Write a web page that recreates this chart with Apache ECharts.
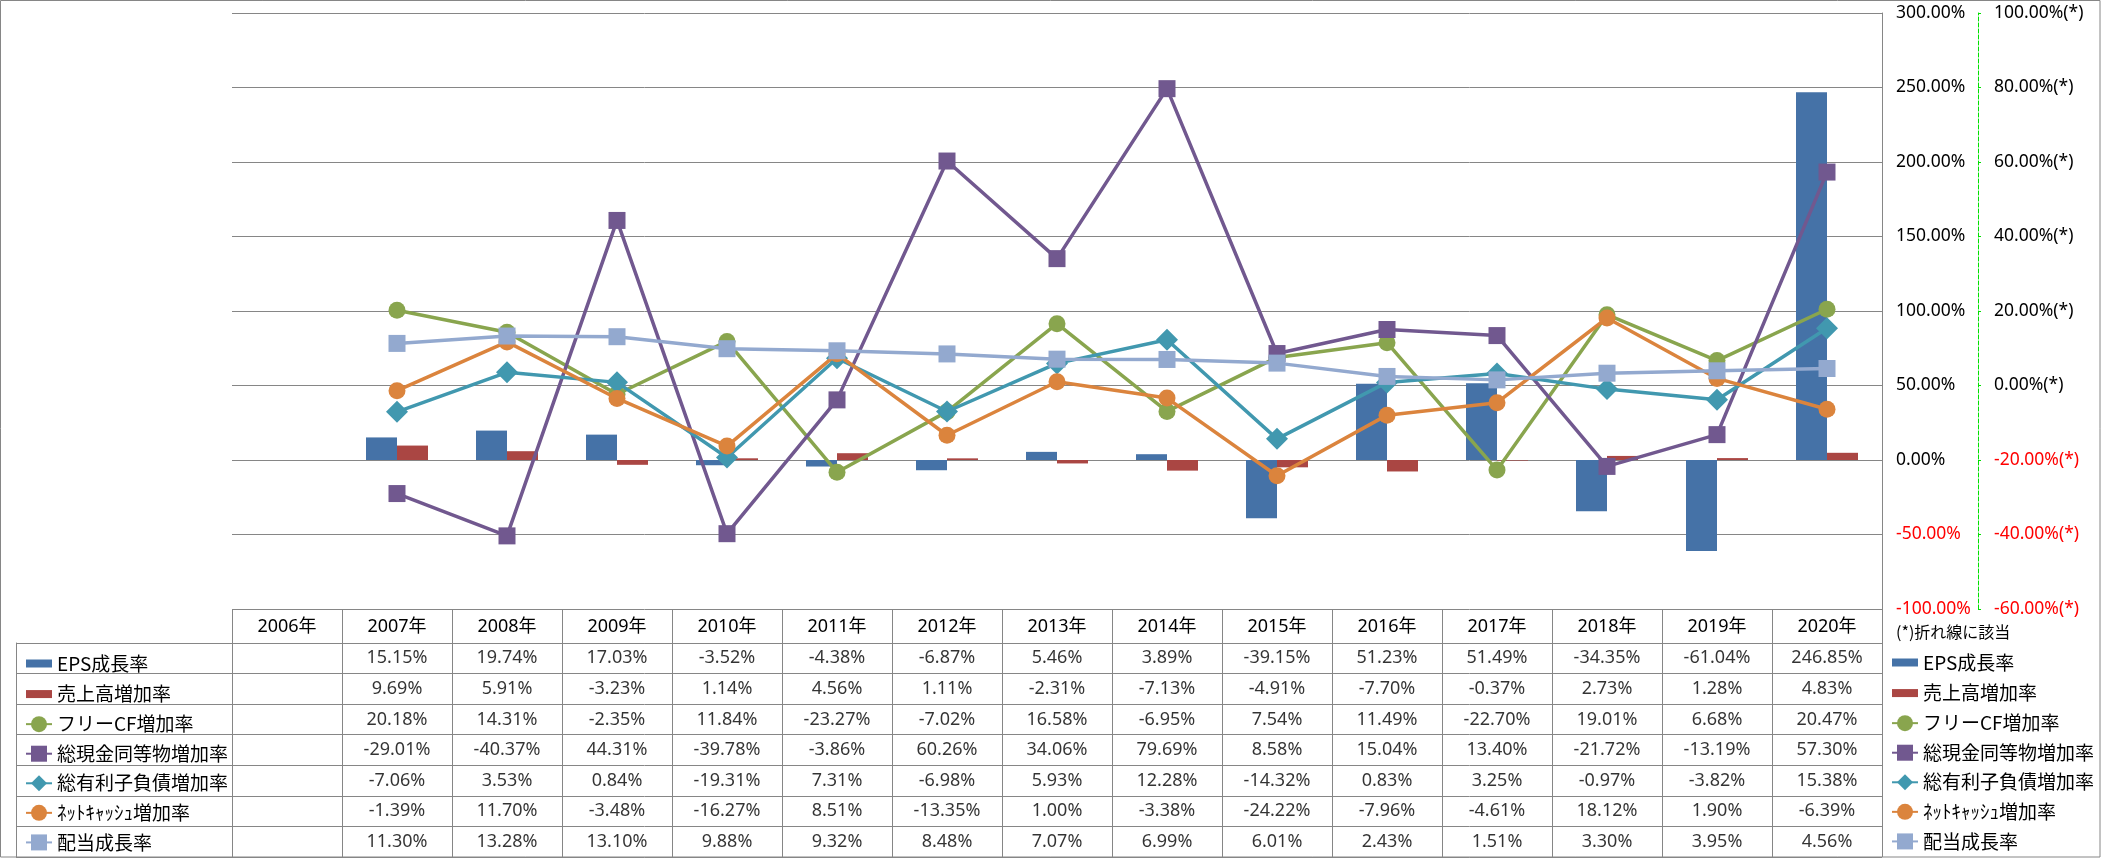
<!DOCTYPE html>
<html>
<head>
<meta charset="utf-8">
<script src="https://cdn.jsdelivr.net/npm/echarts@6/dist/echarts.min.js"></script>
<style>
html,body{margin:0;padding:0;background:#fff;}
#c{width:2101px;height:858px;}
</style>
</head>
<body>
<div id="c"></div>
<script>
// ---- data ----
const years = ['2006年','2007年','2008年','2009年','2010年','2011年','2012年','2013年','2014年','2015年','2016年','2017年','2018年','2019年','2020年'];
const seriesNames = ['EPS成長率','売上高増加率','フリーCF増加率','総現金同等物増加率','総有利子負債増加率','ﾈｯﾄｷｬｯｼｭ増加率','配当成長率'];
const epsGrowth     = [null,15.15,19.74,17.03,-3.52,-4.38,-6.87,5.46,3.89,-39.15,51.23,51.49,-34.35,-61.04,246.85];
const salesGrowth   = [null,9.69,5.91,-3.23,1.14,4.56,1.11,-2.31,-7.13,-4.91,-7.70,-0.37,2.73,1.28,4.83];
const freeCfGrowth  = [null,20.18,14.31,-2.35,11.84,-23.27,-7.02,16.58,-6.95,7.54,11.49,-22.70,19.01,6.68,20.47];
const cashGrowth    = [null,-29.01,-40.37,44.31,-39.78,-3.86,60.26,34.06,79.69,8.58,15.04,13.40,-21.72,-13.19,57.30];
const debtGrowth    = [null,-7.06,3.53,0.84,-19.31,7.31,-6.98,5.93,12.28,-14.32,0.83,3.25,-0.97,-3.82,15.38];
const netCashGrowth = [null,-1.39,11.70,-3.48,-16.27,8.51,-13.35,1.00,-3.38,-24.22,-7.96,-4.61,18.12,1.90,-6.39];
const divGrowth     = [null,11.30,13.28,13.10,9.88,9.32,8.48,7.07,6.99,6.01,2.43,1.51,3.30,3.95,4.56];
const barAxisTicks  = {min:-100, max:300, interval:50};
const lineAxisTicks = {min:-60, max:100, interval:20};
const noteText = '(*)折れ線に該当';

// ---- styling ----
const allValues = [epsGrowth, salesGrowth, freeCfGrowth, cashGrowth, debtGrowth, netCashGrowth, divGrowth];
const colors = ['#4572A7','#AA4643','#89A54E','#71588F','#4198AF','#DB843D','#93A9CF'];
const symbols = [null,null,'circle','rect','diamond','circle','rect'];
const symSizes = [0,0,17,17,22,17,17];
const GRAY = '#868686';
const LATIN = '"Noto Sans","Noto Sans CJK JP",sans-serif';
const CJK = '"Noto Sans CJK JP","Noto Sans",sans-serif';
const negRed = v => (Number(v) < 0 ? '#FF0000' : '#000000');
const barIcon = 'path://M0,0L0,0M0,6L26,6L26,14L0,14ZM26,20L26,20';

const legendData = seriesNames.map((n, i) => i < 2 ? {name: n, icon: barIcon} : {name: n});

const series = [];
seriesNames.forEach((name, i) => {
  if (i < 2) {
    series.push({
      name, type: 'bar', xAxisIndex: 0, yAxisIndex: 0,
      data: allValues[i], barWidth: 31, barGap: '0%',
      itemStyle: {color: colors[i]}, silent: true
    });
  } else {
    series.push({
      name, type: 'line', xAxisIndex: 0, yAxisIndex: 1,
      data: allValues[i], symbol: symbols[i], symbolSize: symSizes[i],
      lineStyle: {color: colors[i], width: 3.5},
      itemStyle: {color: colors[i]}, showSymbol: true, silent: true, z: 3 + i
    });
  }
});

// table cells (scatter labels on the table grid)
const cellData = [];
allValues.forEach((arr, r) => {
  arr.forEach((v, c) => { if (v !== null) cellData.push([c, r, v]); });
});
series.push({
  name: '__table', type: 'scatter', xAxisIndex: 1, yAxisIndex: 2,
  data: cellData, symbolSize: 1, silent: true,
  itemStyle: {color: 'rgba(0,0,0,0)'},
  label: {show: true, position: 'inside', color: '#000', fontSize: 18, fontFamily: LATIN,
    formatter: p => p.value[2].toFixed(2) + '%'}
});

const legendCommon = {
  orient: 'vertical', itemWidth: 26, itemHeight: 20, itemGap: 10.57,
  selectedMode: false, data: legendData,
  textStyle: {fontSize: 19, fontFamily: CJK, color: '#000', padding: [0,0,0,0]}
};

const option = {
  animation: false,
  backgroundColor: '#fff',
  grid: [
    {left: 232, right: 219, top: 13, height: 596, containLabel: false},
    {left: 232, right: 219, top: 643, height: 214, containLabel: false}
  ],
  xAxis: [
    {type: 'category', gridIndex: 0, data: years, boundaryGap: true,
     axisLine: {show: false}, axisTick: {show: false}, axisLabel: {show: false}, splitLine: {show: false}},
    {type: 'category', gridIndex: 1, data: years, boundaryGap: true, position: 'top',
     axisLine: {show: true, lineStyle: {color: GRAY, width: 1}},
     axisTick: {show: true, interval: 0, length: 34, lineStyle: {color: GRAY, width: 1}},
     axisLabel: {show: true, interval: 0, margin: 7, fontSize: 18, fontFamily: LATIN, color: '#000'},
     splitLine: {show: true, interval: 0, lineStyle: {color: GRAY, width: 1}}}
  ],
  yAxis: [
    {type: 'value', gridIndex: 0, position: 'right', min: barAxisTicks.min, max: barAxisTicks.max, interval: barAxisTicks.interval,
     axisLine: {show: true, lineStyle: {color: GRAY, width: 1}}, axisTick: {show: false},
     splitLine: {show: true, lineStyle: {color: GRAY, width: 1}},
     axisLabel: {margin: 14, fontSize: 17.5, fontFamily: LATIN, color: negRed,
       formatter: v => v.toFixed(2) + '%'}},
    {type: 'value', gridIndex: 0, position: 'right', offset: 96, min: lineAxisTicks.min, max: lineAxisTicks.max, interval: lineAxisTicks.interval,
     axisLine: {show: true, lineStyle: {color: '#00E000', width: 1, type: [4, 2]}},
     axisTick: {show: true, inside: false, length: 3, lineStyle: {color: '#00E000', width: 1}},
     splitLine: {show: false},
     axisLabel: {margin: 16, fontSize: 17.5, fontFamily: LATIN, color: negRed,
       formatter: v => v.toFixed(2) + '%(*)'}},
    {type: 'category', gridIndex: 1, data: seriesNames, inverse: true, boundaryGap: true, position: 'left',
     axisLine: {show: true, lineStyle: {color: GRAY, width: 1}},
     axisTick: {show: true, interval: 0, length: 216, lineStyle: {color: GRAY, width: 1}},
     axisLabel: {show: false},
     splitLine: {show: true, interval: 0, lineStyle: {color: GRAY, width: 1}}},
    {type: 'category', gridIndex: 1, data: seriesNames, inverse: true, position: 'left', offset: 216,
     axisLine: {show: true, lineStyle: {color: GRAY, width: 1}},
     axisTick: {show: false}, axisLabel: {show: false}, splitLine: {show: false}}
  ],
  legend: [
    Object.assign({}, legendCommon, {left: 20, top: 648.5}),
    Object.assign({}, legendCommon, {left: 1886, top: 647.5})
  ],
  graphic: [
    {type: 'rect', silent: true, z: 100,
     shape: {x: 0.5, y: 0.5, width: 2099.5, height: 856.5},
     style: {fill: 'none', stroke: GRAY, lineWidth: 1}},
    {type: 'text', silent: true, left: 1896, top: 624,
     style: {text: noteText, fontSize: 16, fontFamily: CJK, fill: '#000'}}
  ],
  series
};

const chart = echarts.init(document.getElementById('c'), null, {renderer: 'canvas'});
chart.setOption(option);
</script>
</body>
</html>
